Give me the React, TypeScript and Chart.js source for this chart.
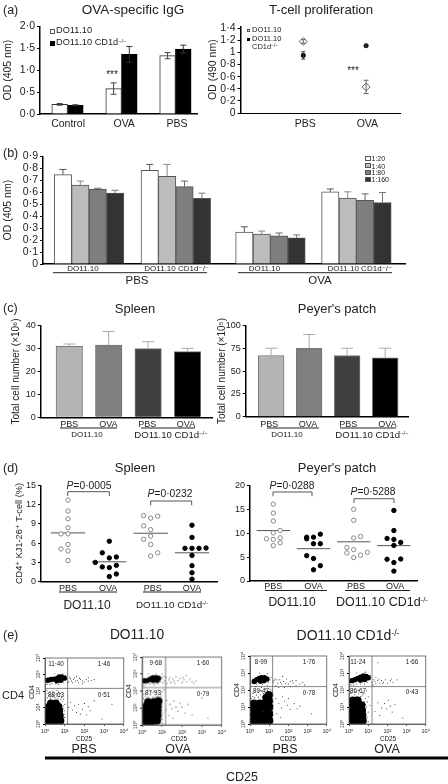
import React, { useEffect, useRef } from "react";
import { Chart, registerables } from "chart.js";

Chart.register(...registerables);

const FONT = "'Liberation Sans', Arial, 'DejaVu Sans', sans-serif";
const INK = "#222";

// ---------- (a) OVA-specific IgG ----------
const igGroups = [1, 2, 3];
const igLabels = ["Control", "OVA", "PBS"];
const igWild = [0.22, 0.58, 1.33];
const igWildErr = [0.02, 0.13, 0.07];
const igKo = [0.2, 1.36, 1.48];
const igKoErr = [0.01, 0.18, 0.09];

// ---------- (a) T-cell proliferation ----------
const tcGroups = [1, 2];
const tcLabels = ["PBS", "OVA"];
const tcWild = [1.18, 0.43];
const tcWildErr = [0.03, 0.11];
const tcKo = [0.95, 1.11];
const tcKoErr = [0.06, 0.02];

// ---------- (b) dilution series ----------
const dilLabels = ["DO11.10", "DO11.10 CD1d⁻/⁻", "DO11.10", "DO11.10 CD1d⁻/⁻"];
const dil20 = [0.747, 0.783, 0.267, 0.603];
const dil40 = [0.66, 0.733, 0.25, 0.55];
const dil80 = [0.627, 0.646, 0.235, 0.532];
const dil160 = [0.592, 0.548, 0.218, 0.513];
const dil20Err = [0.043, 0.049, 0.044, 0.024];
const dil40Err = [0.033, 0.099, 0.025, 0.053];
const dil80Err = [0.006, 0.047, 0.024, 0.054];
const dil160Err = [0.024, 0.044, 0.025, 0.084];

// ---------- (c) cell numbers ----------
const cellGroups = [1, 2, 3, 4];
const cellLabels = ["PBS", "OVA", "PBS", "OVA"];
const spleenCells = [31, 31.5, 30, 28.7];
const spleenCellsErr = [1, 6, 3, 1.4];
const patchCells = [67, 75, 67, 64.5];
const patchCellsErr = [8, 15, 8, 10.5];

// ---------- (d) dot plots: [slot, value] ----------
const dotGroups = [1, 2, 3, 4];
const dotLabels = ["PBS", "OVA", "PBS", "OVA"];
const spleenPbsWt = [[0, 12.7], [0, 11], [0, 9.8], [0, 8.4], [-1, 7.45], [0, 7.45], [0, 5.8], [-1, 5.1], [0, 4.8], [0, 3.3]];
const spleenOvaWt = [[0, 6.3], [-1, 4.5], [1, 3.85], [0, 3.7], [-2, 3], [1, 2.55], [-1, 2.3], [0, 2.2], [1, 1.2], [0, 0.8]];
const spleenPbsKo = [[-1, 10.3], [0, 9.9], [1, 10.2], [-1, 8.7], [0, 8.1], [0, 7.1], [-1, 6.6], [0, 5.8], [1, 4.5], [0, 4]];
const spleenOvaKo = [[0, 8.8], [0, 6.9], [-1, 5.2], [0, 5.2], [1, 5.2], [2, 5.25], [0, 4.1], [0, 2.5], [0, 1.4], [0, 0.4]];
const spleenMedians = [7.6, 3.1, 7.55, 4.5];
const patchPbsWt = [[0, 16.07], [0, 14.2], [0, 12.55], [0, 10.07], [1, 10.55], [-1, 8.83], [0, 8.7], [1, 9.03], [1, 8], [0, 7.4]];
const patchOvaWt = [[-1, 9.17], [-1, 8.83], [0, 9.17], [1, 9.8], [0, 7.8], [1, 7.8], [-1, 5.3], [0, 4.7], [1, 3.2], [0, 2.35]];
const patchPbsKo = [[0, 15], [0, 12.7], [0, 9], [1, 9.3], [-1, 7], [0, 6.55], [-1, 5.86], [1, 5.4], [2, 6], [0, 4.9]];
const patchOvaKo = [[0, 14.76], [0, 10.55], [-1, 8.9], [0, 8.7], [1, 8.07], [0, 7.45], [-1, 4.55], [1, 4.6], [0, 3.86], [0, 2.07]];
const patchMedians = [10.55, 6.76, 8.2, 7.4];

// ---------- (e) flow cytometry, in decades: [log CD25, log CD4] ----------
const flowTicks = [0, 1, 2, 3, 4];
const flowTickLabels = ["10⁰", "10¹", "10²", "10³", "10⁴"];
const flowPbsWtCore = [[0.2, 0.2], [0.5, 0.2], [0.78, 0.2], [0.2, 0.5], [0.5, 0.5], [0.75, 0.5], [0.2, 0.8], [0.5, 0.8], [0.72, 0.8], [0.22, 1.05], [0.48, 1.05], [0.68, 1.05], [0.3, 1.25], [0.55, 1.25]];
const flowPbsWtBlob = [[0.15, 2.65], [0.3, 2.7], [0.45, 2.72], [0.6, 2.75], [0.72, 2.85], [0.85, 2.85], [0.98, 2.78], [0.6, 2.62], [0.8, 2.65]];
const flowPbsWtDots = [[1.1, 2.7], [1.2, 2.55], [1.3, 2.75], [1.4, 2.5], [1.45, 2.7], [1.55, 2.6], [1.65, 2.65], [1.7, 2.5], [1.8, 2.7], [1.9, 2.6], [2, 2.55], [2.1, 2.7], [2.2, 2.6], [2.35, 2.65], [2.5, 2.7], [1.6, 2.9], [1.9, 2.45], [2.2, 2.8], [0.1, 2.4], [0.35, 2.45], [0.7, 2.4], [0.5, 3.05], [0.9, 3.05], [1.05, 2.95], [0.1, 2.05], [0.4, 2], [0.7, 1.95], [0.9, 1.8], [0.15, 1.85], [0.95, 1.5], [1, 1.2], [0.98, 0.8], [1, 0.4], [0.95, 0.15], [0.6, 2.05], [0.3, 1.8], [0.85, 1.6], [1.3, 1.3], [1.5, 1.1], [1.7, 1.2], [1.9, 0.9], [2, 1.25], [2.2, 1.05], [2.3, 0.8], [1.6, 0.7], [1.8, 0.6], [1.4, 0.85], [2.1, 0.55], [1.2, 1], [2.5, 1.4], [2.9, 0.3], [3.4, 1.2], [0.05, 1.5], [0.12, 1.6], [0.2, 1.72], [0.28, 1.55], [0.35, 1.65], [0.42, 1.75], [0.5, 1.6], [0.58, 1.7], [0.65, 1.55], [0.72, 1.68], [0.8, 1.5], [0.88, 1.35], [0.92, 1.1], [0.95, 0.95], [0.97, 0.6], [0.93, 0.3], [0.6, 1.85], [0.45, 1.9], [0.25, 1.95], [0.78, 1.85], [0.1, 2.5], [0.25, 2.4], [0.55, 2.42], [0.95, 2.5], [1.08, 2.85], [1.15, 2.5], [1.25, 2.85], [1.35, 2.6], [1.5, 2.8], [1.75, 2.78]];
const flowOvaWtCore = [[0.2, 0.2], [0.5, 0.2], [0.75, 0.25], [0.2, 0.5], [0.5, 0.5], [0.78, 0.55], [0.2, 0.8], [0.5, 0.8], [0.78, 0.85], [0.22, 1.1], [0.5, 1.1], [0.78, 1.15], [0.3, 1.35], [0.6, 1.35], [0.82, 1.4]];
const flowOvaWtBlob = [[0.12, 2.6], [0.28, 2.62], [0.42, 2.7], [0.55, 2.78], [0.7, 2.78], [0.82, 2.75], [0.55, 2.62], [0.75, 2.62]];
const flowOvaWtDots = [[1, 2.75], [1.15, 2.6], [1.25, 2.45], [1.35, 2.65], [1.45, 2.5], [1.55, 2.7], [1.65, 2.45], [1.8, 2.6], [1.9, 2.75], [2, 2.5], [2.1, 2.65], [2.25, 2.55], [2.4, 2.7], [2.6, 2.45], [2.7, 2.6], [1.7, 2.85], [2.2, 2.9], [0.1, 2.3], [0.4, 2.4], [0.8, 2.45], [0.3, 3], [0.7, 3], [1, 3], [0.3, 2.05], [0.6, 2], [0.85, 2.05], [1, 1.95], [0.1, 1.8], [0.95, 1.7], [1, 1.4], [1, 1.05], [1.02, 0.7], [1, 0.35], [1.02, 0.1], [1.1, 2.05], [1.25, 1.45], [1.4, 1.2], [1.5, 0.95], [1.6, 1.4], [1.7, 1.05], [1.8, 0.8], [1.9, 1.3], [2, 1.05], [2.15, 0.7], [1.35, 0.55], [1.55, 0.4], [1.2, 0.9], [2.3, 1.2], [2.5, 0.6], [3, 1.6], [3.3, 0.4], [0.08, 1.55], [0.18, 1.7], [0.3, 1.62], [0.42, 1.75], [0.55, 1.62], [0.68, 1.72], [0.8, 1.68], [0.92, 1.85], [0.45, 1.95], [0.72, 1.92], [0.2, 1.9], [0.95, 1.2], [0.98, 0.9], [0.95, 0.55], [0.05, 2.45], [0.22, 2.4], [0.6, 2.38], [0.92, 2.55], [1.08, 2.85], [1.05, 2.48], [1.2, 2.8], [1.4, 2.78], [1.6, 2.58], [2.05, 2.8], [2.5, 2.55]];
const flowPbsKoCore = [[0.2, 0.2], [0.5, 0.2], [0.8, 0.2], [1, 0.2], [0.2, 0.55], [0.5, 0.55], [0.8, 0.55], [1, 0.6], [0.2, 0.9], [0.5, 0.9], [0.8, 0.95], [1, 1], [0.2, 1.2], [0.5, 1.2], [0.8, 1.25], [0.98, 1.35], [0.85, 1.55], [0.98, 1.7]];
const flowPbsKoBlob = [[0.22, 2.5], [0.35, 2.6], [0.48, 2.68], [0.6, 2.72], [0.75, 2.72], [0.88, 2.65], [0.55, 2.52], [0.72, 2.55]];
const flowPbsKoDots = [[0.05, 2.4], [0.15, 2.65], [1.05, 2.6], [1.2, 2.45], [1.3, 2.65], [1.45, 2.4], [1.55, 2.6], [1.65, 2.35], [1.75, 2.5], [1.9, 2.65], [2, 2.35], [2.1, 2.5], [2.25, 2.4], [2.4, 2.55], [2.6, 2.35], [2.75, 2.45], [1.5, 2.15], [1.8, 2.15], [2.1, 2.2], [1.7, 2.8], [0.3, 2.2], [0.6, 2.15], [0.9, 2.25], [0.5, 3], [0.9, 2.95], [0.15, 1.8], [0.25, 1.95], [0.55, 2], [0.8, 2.05], [1.15, 2], [1.2, 1.7], [1.2, 1.3], [1.2, 0.9], [1.18, 0.5], [1.2, 0.15], [1.35, 1.5], [1.5, 1.2], [1.65, 0.95], [1.8, 1.35], [1.95, 1.1], [2.1, 0.85], [2.3, 1.2], [2.45, 0.9], [1.7, 1.6], [2, 1.5], [1.4, 0.6], [1.6, 0.4], [2.6, 1.05], [3.2, 0.6], [0.06, 1.5], [0.14, 1.62], [0.24, 1.55], [0.34, 1.7], [0.44, 1.58], [0.54, 1.72], [0.64, 1.6], [0.7, 1.8], [0.42, 1.88], [0.62, 1.92], [0.9, 1.95], [1.05, 2.05], [1.15, 1.85], [1.17, 1.45], [1.2, 1.1], [0.35, 2.35], [0.65, 2.32], [0.95, 2.45], [1.1, 2.75], [1.25, 2.55], [1.4, 2.6], [1.6, 2.45], [1.85, 2.4], [2.2, 2.55], [1.35, 2.25], [2.4, 2.25], [2.85, 2.3]];
const flowOvaKoCore = [[0.2, 0.2], [0.5, 0.2], [0.72, 0.2], [0.2, 0.5], [0.5, 0.5], [0.7, 0.5], [0.2, 0.8], [0.48, 0.8], [0.68, 0.8], [0.2, 1.1], [0.48, 1.1], [0.65, 1.1], [0.2, 1.38], [0.45, 1.38]];
const flowOvaKoBlob = [[0.15, 2.55], [0.3, 2.6], [0.45, 2.68], [0.6, 2.75], [0.75, 2.82], [0.9, 2.8], [1, 2.72], [0.6, 2.58], [0.82, 2.62]];
const flowOvaKoDots = [[1.1, 2.65], [1.2, 2.45], [1.3, 2.6], [1.4, 2.4], [1.5, 2.55], [1.6, 2.4], [1.7, 2.55], [1.8, 2.45], [1.9, 2.6], [2, 2.4], [2.15, 2.55], [2.3, 2.45], [2.5, 2.6], [1.4, 2.75], [0.1, 2.3], [0.4, 2.35], [0.8, 2.35], [0.4, 3], [0.85, 3.05], [1.5, 3.6], [0.2, 2], [0.5, 2], [0.7, 1.85], [0.9, 1.95], [0.1, 1.8], [0.85, 1.5], [0.95, 1.3], [0.92, 1], [1, 0.7], [0.95, 0.4], [1, 0.15], [0.65, 1.65], [1.1, 1.1], [1.5, 1.25], [1.7, 0.95], [1.85, 1.2], [1.95, 0.9], [2.05, 1.4], [2.15, 1.05], [2.25, 0.7], [1.6, 0.5], [1.35, 0.75], [2.4, 1.15], [2.8, 0.35], [0.3, 1.72], [0.4, 1.62], [0.5, 1.78], [0.6, 1.6], [0.72, 1.72], [0.8, 1.3], [0.85, 1.15], [0.82, 0.9], [0.88, 0.65], [0.85, 0.3], [0.35, 1.9], [0.78, 1.8], [1, 1.6], [0.05, 2.45], [0.25, 2.3], [0.6, 2.35], [0.95, 2.45], [1.1, 2.85], [1.25, 2.3], [1.35, 2.5], [1.55, 2.65], [1.75, 2.38], [2.2, 2.65]];

// ---------- helpers ----------
const dot = (v: number) => String(Math.round(v * 100) / 100).replace(".", "·");
const dot1 = (v: number) => v.toFixed(1).replace(".", "·");

const errorBars = {
  id: "errorBars",
  afterDatasetsDraw(chart: any) {
    const ctx = chart.ctx;
    chart.data.datasets.forEach((ds: any, i: number) => {
      if (!ds.errUp) return;
      const meta = chart.getDatasetMeta(i);
      const ys = chart.scales.y;
      ctx.save();
      ctx.strokeStyle = ds.errColor || "#444";
      ctx.lineWidth = ds.errWidth || 1;
      meta.data.forEach((el: any, k: number) => {
        const val = ds.data[k].y;
        const top = ys.getPixelForValue(val + ds.errUp[k]);
        const bot = ds.errBoth ? ys.getPixelForValue(val - ds.errUp[k]) : el.y;
        const cap = ds.errCap ?? 3;
        ctx.beginPath();
        ctx.moveTo(el.x, top);
        ctx.lineTo(el.x, bot);
        ctx.moveTo(el.x - cap, top);
        ctx.lineTo(el.x + cap, top);
        if (ds.errBoth) {
          ctx.moveTo(el.x - cap, bot);
          ctx.lineTo(el.x + cap, bot);
        }
        ctx.stroke();
      });
      ctx.restore();
    });
  },
};

const frameBox = {
  id: "frameBox",
  afterDatasetsDraw(chart: any, _a: any, opts: any) {
    if (!opts || !opts.show) return;
    const { left, top, width, height } = chart.chartArea;
    chart.ctx.save();
    chart.ctx.strokeStyle = "#555";
    chart.ctx.lineWidth = 0.8;
    chart.ctx.strokeRect(left, top, width, height);
    chart.ctx.restore();
  },
};

function xAxis(min: number, max: number, at: number[], labels: string[], size: number, pad: number, widthB = 1.5) {
  return {
    type: "linear",
    min,
    max,
    offset: false,
    afterBuildTicks: (s: any) => {
      s.ticks = at.map((value) => ({ value }));
    },
    ticks: {
      autoSkip: false,
      maxRotation: 0,
      minRotation: 0,
      padding: pad,
      color: INK,
      font: { family: FONT, size },
      callback: (v: number) => labels[at.indexOf(v)] ?? "",
    },
    grid: { display: true, offset: false, drawOnChartArea: false, drawTicks: false, tickLength: 0 },
    border: { display: true, color: "#000", width: widthB },
  };
}

function yAxis(max: number, step: number, size: number, fmt: (v: number) => string, title?: string, titleSize = 10) {
  return {
    type: "linear",
    min: 0,
    max,
    ticks: {
      stepSize: step,
      includeBounds: false,
      autoSkip: false,
      padding: 2,
      color: INK,
      font: { family: FONT, size },
      callback: fmt,
    },
    grid: { display: true, drawOnChartArea: false, drawTicks: true, tickLength: 3, color: "#000" },
    border: { display: true, color: "#000", width: 1.5 },
    title: title
      ? { display: true, text: title, color: INK, padding: 0, font: { family: FONT, size: titleSize } }
      : { display: false },
  };
}

const toXY = (xs: number[], ys: number[]) => xs.map((x, i) => ({ x, y: ys[i] }));

type Box = { x: number; y: number; w: number; h: number };
type Plot = { l: number; t: number; r: number; b: number };

function ChartBox({ box, plot, make }: { box: Box; plot: Plot; make: () => any }) {
  const ref = useRef<HTMLCanvasElement>(null);
  useEffect(() => {
    const cfg = make();
    const scales = cfg.options.scales;
    scales.y.afterFit = (s: any) => {
      s.width = plot.l - box.x;
    };
    scales.x.afterFit = (s: any) => {
      s.height = box.y + box.h - plot.b;
    };
    cfg.options = {
      ...cfg.options,
      animation: false,
      responsive: false,
      maintainAspectRatio: false,
      layout: { padding: { left: 0, bottom: 0, top: plot.t - box.y, right: box.x + box.w - plot.r } },
      plugins: { legend: { display: false }, tooltip: { enabled: false }, ...(cfg.options.plugins || {}) },
    };
    cfg.plugins = [errorBars, frameBox];
    const chart = new Chart(ref.current as HTMLCanvasElement, cfg);
    return () => chart.destroy();
  }, []);
  return (
    <canvas
      ref={ref}
      width={box.w}
      height={box.h}
      style={{ position: "absolute", left: box.x, top: box.y, width: box.w, height: box.h }}
    />
  );
}

function T({ x, y, s, a = "c", children }: any) {
  const style: React.CSSProperties = {
    position: "absolute",
    left: x,
    top: y,
    fontFamily: FONT,
    fontSize: s,
    color: INK,
    whiteSpace: "nowrap",
    lineHeight: 1,
    transform: a === "c" ? "translate(-50%,-50%)" : a === "r" ? "translate(-50%,-50%) rotate(-90deg)" : "translate(0,-50%)",
  };
  return <div style={style}>{children}</div>;
}

const Sup = ({ children }: any) => (
  <span style={{ fontSize: "0.62em", verticalAlign: "0.5em", lineHeight: 0 }}>{children}</span>
);

function Swatch({ x, y, w, h, fill, border = "#555" }: any) {
  return (
    <div
      style={{
        position: "absolute",
        left: x,
        top: y - h / 2,
        width: w,
        height: h,
        boxSizing: "border-box",
        background: fill,
        border: `1px solid ${border}`,
      }}
    />
  );
}

// ---------- panel configs ----------
const igChart = () => ({
  type: "bar",
  data: {
    datasets: [
      { data: toXY(igGroups, igWild), backgroundColor: "#fff", borderColor: "#333", borderWidth: 1, errUp: igWildErr, errBoth: true, errColor: "#444" },
      { data: toXY(igGroups, igKo), backgroundColor: "#000", borderColor: "#000", borderWidth: 1, errUp: igKoErr, errBoth: true, errColor: "#333" },
    ],
  },
  options: {
    datasets: { bar: { barThickness: 15.7, grouped: true } },
    scales: {
      x: xAxis(0.49, 3.4, [1.01, 2.05, 3.03], igLabels, 10.5, 4),
      y: yAxis(2, 0.5, 10.5, dot1, "OD (405 nm)", 10.5),
    },
  },
});

const tcChart = () => ({
  type: "scatter",
  data: {
    datasets: [
      { data: toXY(tcGroups, tcWild), pointStyle: "rectRot", pointRadius: 4, backgroundColor: "#fff", borderColor: "#666", borderWidth: 1, errUp: tcWildErr, errBoth: true, errColor: "#666", errCap: 2.5 },
      { data: toXY(tcGroups, tcKo), pointStyle: "rectRounded", pointRadius: 2.2, backgroundColor: "#000", borderColor: "#000", errUp: tcKoErr, errBoth: true, errColor: "#333", errCap: 2 },
    ],
  },
  options: {
    scales: {
      x: xAxis(0, 2.54, [1.03, 2.02], tcLabels, 10.5, 5, 1),
      y: yAxis(1.43, 0.2, 10.5, dot, "OD (490 nm)", 10.5),
    },
  },
});

const dilChart = () => {
  const series = [
    { v: dil20, e: dil20Err, c: "#fff", ec: "#555" },
    { v: dil40, e: dil40Err, c: "#bcbcbc", ec: "#888" },
    { v: dil80, e: dil80Err, c: "#7e7e7e", ec: "#666" },
    { v: dil160, e: dil160Err, c: "#333", ec: "#777" },
  ];
  return {
    type: "bar",
    data: {
      datasets: series.map((s) => ({
        data: toXY([1, 2, 3.09, 4.08], s.v),
        backgroundColor: s.c,
        borderColor: "#555",
        borderWidth: 1,
        errUp: s.e,
        errColor: s.ec,
        errCap: 3.5,
      })),
    },
    options: {
      datasets: { bar: { barThickness: 17.4, grouped: true } },
      scales: {
        x: xAxis(0.47, 4.64, [0.93, 2.01, 3.02, 4.12], dilLabels, 8, 0),
        y: yAxis(0.9, 0.1, 10.5, dot, "OD (405 nm)", 10.5),
      },
    },
  };
};

const cellChart = (vals: number[], errs: number[], min: number, max: number, ymax: number, step: number, at: number[], unit: string, thick: number) => () => {
  const fills = ["#b4b4b4", "#7f7f7f", "#404040", "#000"];
  return {
    type: "bar",
    data: {
      datasets: [
        {
          data: toXY(cellGroups, vals),
          backgroundColor: fills,
          borderColor: "#777",
          borderWidth: 1,
          errUp: errs,
          errColor: "#aaa",
          errCap: 6,
        },
      ],
    },
    options: {
      datasets: { bar: { barThickness: thick } },
      scales: {
        x: xAxis(min, max, at, cellLabels, 9, 2),
        y: yAxis(ymax, step, 9, dot, `Total cell number (×10${unit})`, 10),
      },
    },
  };
};

const dotChart = (
  groups: number[][][],
  medians: number[],
  min: number,
  max: number,
  ymax: number,
  step: number,
  at: number[],
  title: string | undefined,
  pad: number,
) => () => {
  const J = 0.17;
  const pts = groups.map((g, i) => ({
    data: g.map(([slot, y]) => ({ x: dotGroups[i] + slot * J, y })),
    showLine: false,
    pointRadius: 2.2,
    pointBorderWidth: 1,
    pointBackgroundColor: i % 2 === 0 ? "#fff" : "#000",
    pointBorderColor: i % 2 === 0 ? "#888" : "#000",
  }));
  const lines = medians.map((m, i) => ({
    data: [
      { x: dotGroups[i] - 0.415, y: m },
      { x: dotGroups[i] + 0.415, y: m },
    ],
    showLine: true,
    pointRadius: 0,
    borderColor: "#555",
    borderWidth: 1,
  }));
  return {
    type: "scatter",
    data: { datasets: [...pts, ...lines] },
    options: {
      scales: {
        x: xAxis(min, max, at, dotLabels, 9, pad),
        y: yAxis(ymax, step, 9, dot, title, 9.2),
      },
    },
  };
};

const flowChart = (core: number[][], blob: number[][], dots: number[][], dx: number, dy: number) => () => {
  const ds = (a: number[][], r: number, c: string) => ({
    data: a.map(([x, y]) => ({ x, y })),
    showLine: false,
    pointRadius: r,
    pointBorderWidth: 0,
    pointBackgroundColor: c,
  });
  const rule = (a: { x: number; y: number }[]) => ({
    data: a,
    showLine: true,
    pointRadius: 0,
    borderColor: "#666",
    borderWidth: 0.8,
  });
  const y = yAxis(4, 1, 5.5, (v: number) => flowTickLabels[flowTicks.indexOf(v)]) as any;
  y.ticks.minRotation = 90;
  y.ticks.maxRotation = 90;
  y.ticks.crossAlign = "center";
  y.ticks.padding = 0;
  y.border = { color: "#555", width: 0.8 };
  y.grid.tickLength = 2;
  const x = xAxis(0, 4, flowTicks, flowTickLabels, 5.5, 2, 0.8) as any;
  x.border = { color: "#555", width: 0.8 };
  x.grid.drawTicks = true;
  x.grid.tickLength = 2;
  x.grid.color = "#555";
  return {
    type: "scatter",
    data: {
      datasets: [
        ds(core, 4, "#000"),
        ds(blob, 2.7, "#000"),
        ds(dots, 0.55, "#333"),
        rule([{ x: dx, y: 0 }, { x: dx, y: 4 }]),
        rule([{ x: 0, y: dy }, { x: 4, y: dy }]),
      ],
    },
    options: { scales: { x, y }, plugins: { frameBox: { show: true } } },
  };
};

function flowBox(l: number, t: number, r: number, b: number) {
  return { box: { x: l - 14, y: t - 5, w: r - l + 20, h: b - t + 17 }, plot: { l, t, r, b } };
}

// ---------- app ----------
export default function App() {
  const flows = [
    { ...flowBox(45, 657.7, 124, 724.3), make: flowChart(flowPbsWtCore, flowPbsWtBlob, flowPbsWtDots, 1.15, 2.16) },
    { ...flowBox(142.3, 657.3, 221.7, 725), make: flowChart(flowOvaWtCore, flowOvaWtBlob, flowOvaWtDots, 1.18, 2.2) },
    { ...flowBox(250, 656, 327.3, 724), make: flowChart(flowPbsKoCore, flowPbsKoBlob, flowPbsKoDots, 1.18, 2.2) },
    { ...flowBox(349, 656, 426.3, 724), make: flowChart(flowOvaKoCore, flowOvaKoBlob, flowOvaKoDots, 1.2, 2.2) },
  ];
  const quad = [
    ["11·40", 56, 664], ["1·46", 104, 664], ["88·63", 56, 695], ["0·51", 104, 695],
    ["9·68", 155.7, 663], ["1·60", 203, 663], ["87·93", 153, 693], ["0·79", 203, 693.5],
    ["8·99", 261, 661.7], ["1·76", 309, 661.7], ["89·47", 261, 690.7], ["0·78", 309, 693],
    ["11·24", 358, 661.7], ["1·66", 412, 661.7], ["86·67", 358, 691], ["0·43", 412, 692],
  ];
  const rules = [
    [53, 207, 272.7], [238, 392, 272.7],
    [60, 117, 428], [141, 195, 428], [267, 319, 428], [340, 396, 428],
    [59, 117, 592], [143, 201, 592], [265, 327, 590.5], [345, 410, 590.5],
  ];
  const brackets = [
    [67.7, 109.3, 491.7], [150.7, 191.7, 501], [273, 312, 492], [354, 394, 498.7],
  ];
  return (
    <div style={{ position: "absolute", left: 0, top: 0, width: 448, height: 784, background: "#fff", overflow: "hidden", filter: "blur(0.35px)" }}>
      <ChartBox box={{ x: 2, y: 18, w: 205, h: 115 }} plot={{ l: 40, t: 25, r: 197, b: 114 }} make={igChart} />
      <ChartBox box={{ x: 207, y: 18, w: 200, h: 115 }} plot={{ l: 240.5, t: 23, r: 400, b: 113 }} make={tcChart} />
      <ChartBox box={{ x: 2, y: 148, w: 410, h: 125 }} plot={{ l: 43, t: 154, r: 405, b: 264 }} make={dilChart} />
      <ChartBox box={{ x: 10, y: 318, w: 206, h: 115 }} plot={{ l: 40.7, t: 325.7, r: 212, b: 417.3 }} make={cellChart(spleenCells, spleenCellsErr, 0.275, 4.62, 40, 10, [1, 1.99, 2.98, 3.96], "⁶", 26.5)} />
      <ChartBox box={{ x: 216, y: 318, w: 196, h: 115 }} plot={{ l: 245.7, t: 323.3, r: 408, b: 416.7 }} make={cellChart(patchCells, patchCellsErr, 0.33, 4.6, 100, 25, [0.95, 1.97, 3.03, 4.06], "⁵", 25.7)} />
      <ChartBox box={{ x: 14, y: 478, w: 208, h: 115 }} plot={{ l: 41, t: 484.3, r: 217, b: 581.7 }} make={dotChart([spleenPbsWt, spleenOvaWt, spleenPbsKo, spleenOvaKo], spleenMedians, 0.347, 4.605, 15, 3, [1, 1.97, 3.05, 4], "CD4⁺ KJ1-26⁺ T-cell (%)", 1)} />
      <ChartBox box={{ x: 224, y: 478, w: 198, h: 115 }} plot={{ l: 250, t: 484.3, r: 417, b: 581 }} make={dotChart([patchPbsWt, patchOvaWt, patchPbsKo, patchOvaKo], patchMedians, 0.42, 4.575, 20, 5, [1, 2, 3.06, 4.03], undefined, 0)} />
      {flows.map((f, i) => (
        <ChartBox key={i} box={f.box} plot={f.plot} make={f.make} />
      ))}

      <svg width={448} height={784} style={{ position: "absolute", left: 0, top: 0 }}>
        {rules.map(([a, b, y], i) => (
          <line key={i} x1={a} x2={b} y1={y} y2={y} stroke="#222" strokeWidth={1} />
        ))}
        {brackets.map(([a, b, y], i) => (
          <path key={i} d={`M${a} ${y + 4.3} V${y} H${b} V${y + 4.3}`} fill="none" stroke="#444" strokeWidth={0.9} />
        ))}
        <line x1={45} x2={448} y1={758} y2={758} stroke="#000" strokeWidth={3} />
      </svg>

      <T x={3} y={10} s={12.5} a="l">(a)</T>
      <T x={3} y={153} s={12.5} a="l">(b)</T>
      <T x={3} y={308} s={12.5} a="l">(c)</T>
      <T x={3} y={468} s={12.5} a="l">(d)</T>
      <T x={3} y={635} s={12.5} a="l">(e)</T>

      <T x={133} y={9.5} s={13.5}>OVA-specific IgG</T>
      <T x={321} y={9.5} s={13.2}>T-cell proliferation</T>
      <T x={135} y={308} s={13}>Spleen</T>
      <T x={337} y={308} s={13}>Peyer's patch</T>
      <T x={135} y={467} s={13}>Spleen</T>
      <T x={337} y={467} s={13}>Peyer's patch</T>
      <T x={137} y={635} s={13.8}>DO11.10</T>
      <T x={348} y={635} s={14}>DO11.10 CD1d<Sup>-/-</Sup></T>

      <Swatch x={49.5} y={31} w={5} h={5} fill="#fff" />
      <Swatch x={49.5} y={43} w={5} h={5} fill="#000" border="#000" />
      <T x={56} y={31} s={9.2} a="l">DO11.10</T>
      <T x={56} y={43} s={9.2} a="l">DO11.10 CD1d<Sup>−/−</Sup></T>
      <T x={112} y={75} s={10}>***</T>

      <Swatch x={246.5} y={30} w={3} h={3} fill="#fff" />
      <Swatch x={246.5} y={39} w={3} h={3} fill="#000" border="#000" />
      <T x={252} y={30} s={7.5} a="l">DO11.10</T>
      <T x={252} y={39} s={7.5} a="l">DO11.10</T>
      <T x={252} y={47} s={7.5} a="l">CD1d<Sup>−/−</Sup></T>
      <T x={353} y={71} s={10}>***</T>

      {[["1:20", 158, "#fff"], ["1:40", 165.5, "#bcbcbc"], ["1:80", 172.3, "#7e7e7e"], ["1:160", 179, "#333"]].map(([t, y, c]: any) => (
        <React.Fragment key={t}>
          <Swatch x={364.5} y={y} w={6} h={5} fill={c} />
          <T x={371.5} y={y} s={7} a="l">{t}</T>
        </React.Fragment>
      ))}
      <T x={137} y={281} s={11.5}>PBS</T>
      <T x={320} y={281} s={11.5}>OVA</T>

      <T x={87} y={435} s={8}>DO11.10</T>
      <T x={171} y={435} s={9.6}>DO11.10 CD1d<Sup>−/−</Sup></T>
      <T x={287} y={435} s={8}>DO11.10</T>
      <T x={372} y={435} s={9.6}>DO11.10 CD1d<Sup>−/−</Sup></T>

      <T x={89} y={485.7} s={10.3}><i>P</i>=0·0005</T>
      <T x={170} y={494} s={10.3}><i>P</i>=0·0232</T>
      <T x={292} y={485.7} s={10.3}><i>P</i>=0·0288</T>
      <T x={373} y={492} s={10.3}><i>P</i>=0·5288</T>

      <T x={87} y={605} s={12}>DO11.10</T>
      <T x={172} y={605} s={9.8}>DO11.10 CD1d<Sup>-/-</Sup></T>
      <T x={292} y={602} s={12}>DO11.10</T>
      <T x={382} y={602} s={12.5}>DO11.10 CD1d<Sup>-/-</Sup></T>

      <T x={2} y={695} s={11} a="l">CD4</T>
      {quad.map(([t, x, y]: any, i) => (
        <T key={i} x={x} y={y} s={6.3}>{t}</T>
      ))}
      {[[30.7, 691.7], [128, 691], [235.7, 690], [334.7, 690]].map(([x, y], i) => (
        <T key={i} x={x} y={y} s={7} a="r">CD4</T>
      ))}
      {[[84, 739], [179, 739], [288, 739], [388, 739]].map(([x, y], i) => (
        <T key={i} x={x} y={y} s={6.3}>CD25</T>
      ))}
      <T x={84} y={749} s={12.5}>PBS</T>
      <T x={178} y={749} s={12.5}>OVA</T>
      <T x={285} y={749} s={12.5}>PBS</T>
      <T x={387} y={749} s={12.5}>OVA</T>
      <T x={226} y={776.7} s={12.5} a="l">CD25</T>
    </div>
  );
}
